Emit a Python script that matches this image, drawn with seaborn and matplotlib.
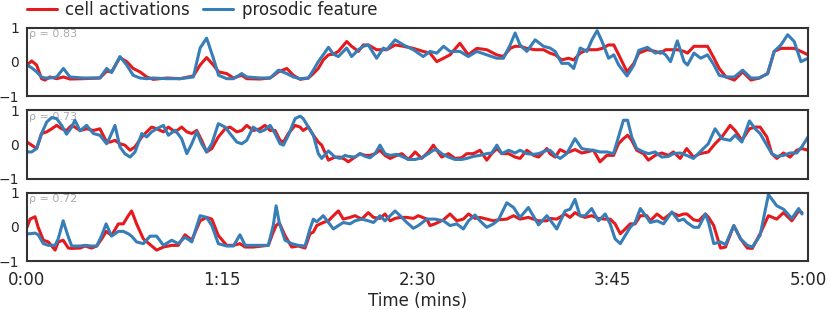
import matplotlib
matplotlib.use("Agg")
import matplotlib.pyplot as plt
import seaborn as sns

# --- data (time in seconds, values in [-1, 1]) ---

# panel 1 (rho = 0.83)
t1 = [0, 1.8, 3.7, 5.6, 6.9, 8.8, 11.4, 14.0, 16.5, 21.6,
      28.0, 30.6, 32.5, 35.7, 38.3, 40.8, 43.4, 46.0, 48.5, 53.7,
      58.8, 63.9, 66.5, 69.0, 71.6, 73.6, 76.7, 79.3, 82.5, 84.4,
      89.5, 93.4, 96.6,
      99.8, 102.3, 104.9, 108.1, 110.0, 111.9, 113.8, 115.8, 117.7, 119.6,
      122.8, 124.7, 127.3, 129.2, 131.1, 134.3, 136.9, 138.2, 141.4, 144.6,
      148.4, 152.2, 154.8, 157.4, 160.0, 162.5, 166.3, 169.5, 172.8, 176.6,
      180.4, 183.0, 185.6, 187.5, 189.4, 192.0, 195.2, 198.4,
      200.9, 202.9, 205.4, 208.0, 210.0, 212.5, 215.1, 217.0, 219.0, 220.9,
      223.4, 225.4, 227.3, 230.5, 233.1, 235.0, 238.3, 241.4, 243.4, 245.3,
      247.2, 249.8, 252.4, 253.7, 256.2, 258.8, 261.4, 263.9, 265.9, 268.5,
      271.7, 274.9, 278.1, 281.3, 284.5, 287.0, 289.6, 292.2, 294.7, 297.3,
      300.0]
cell1 = [-0.09, 0.03, -0.09, -0.49, -0.53, -0.44, -0.49, -0.44, -0.50, -0.49,
         -0.47, -0.27, -0.29, 0.13, 0.01, -0.19, -0.29, -0.44, -0.51, -0.47,
         -0.49, -0.41, -0.09, 0.13, -0.09, -0.29, -0.34, -0.47, -0.39, -0.49,
         -0.50, -0.47, -0.29,
         -0.19, -0.39, -0.51, -0.47, -0.34, -0.19, 0.06, 0.21, 0.23, 0.31,
         0.60, 0.46, 0.31, 0.50, 0.50, 0.36, 0.36, 0.36, 0.50, 0.46,
         0.40, 0.31, 0.26, 0.01, 0.11, 0.21, 0.55, 0.21, 0.40, 0.36,
         0.21, 0.16, 0.40, 0.46, 0.46, 0.40, 0.36, 0.36,
         0.26, 0.21, 0.06, 0.11, 0.06, 0.26, 0.36, 0.36, 0.36, 0.40,
         0.50, 0.50, 0.21, -0.29, -0.04, 0.26, 0.36, 0.31, 0.26, 0.36,
         0.36, 0.36, 0.31, 0.26, 0.46, 0.46, 0.46, 0.11, -0.19, -0.44,
         -0.53, -0.29, -0.53, -0.47, -0.34, 0.31, 0.40, 0.40, 0.40, 0.31,
         0.21]
pros1 = [-0.09, -0.17, -0.29, -0.44, -0.47, -0.47, -0.44, -0.19, -0.44, -0.47,
         -0.47, -0.19, -0.31, 0.16, -0.09, -0.39, -0.47, -0.49, -0.47, -0.49,
         -0.49, -0.44, 0.41, 0.70, 0.11, -0.39, -0.49, -0.49, -0.34, -0.44,
         -0.47, -0.47, -0.24,
         -0.34, -0.44, -0.49, -0.47, -0.24, 0.01, 0.21, 0.43, 0.23, 0.16,
         0.41, 0.16, 0.36, 0.46, 0.50, 0.11, 0.41, 0.36, 0.65, 0.50,
         0.36, 0.16, 0.31, 0.26, 0.46, 0.31, 0.31, 0.16, 0.31, 0.21,
         0.11, 0.11, 0.50, 0.85, 0.50, 0.31, 0.65, 0.46,
         0.41, 0.31, -0.04, -0.04, -0.19, 0.41, 0.31, 0.65, 0.92, 0.60,
         0.11, 0.21, -0.09, -0.41, -0.09, 0.34, 0.43, 0.26, 0.31, 0.21,
         0.01, 0.62, 0.01, -0.09, 0.26, 0.11, 0.21, -0.09, -0.39, -0.44,
         -0.44, -0.24, -0.47, -0.47, -0.34, 0.31, 0.50, 0.80, 0.60, 0.01,
         0.11]

# panel 2 (rho = 0.73)
t2 = [0, 1.8, 3.7, 5.6, 7.6, 9.5, 11.4, 13.3, 15.2, 17.2,
      18.4, 20.4, 22.9, 25.5, 28.0, 30.6, 31.9, 33.8, 35.7, 37.6,
      39.6, 41.5, 44.1, 46.0, 47.9, 49.8, 52.4, 54.3, 56.9, 59.4,
      61.4, 63.3, 65.2, 67.1, 69.0, 71.0, 73.5, 76.1, 78.0, 80.6,
      82.5, 84.4, 86.9, 89.5, 91.4, 93.4, 95.3,
      97.2, 98.5, 100.4, 103.0, 104.9, 106.1, 108.1, 110.0, 111.9, 113.2,
      115.8, 118.3, 120.2, 122.2, 123.4, 126.0, 127.9, 129.9, 131.8, 133.7,
      135.6, 137.5, 139.5, 142.0, 144.0, 146.5, 149.1, 151.6, 154.2, 156.1,
      157.4, 159.3, 161.9, 164.4, 167.0, 168.9, 171.5, 174.0, 176.6, 178.5,
      180.5, 182.4, 185.0, 187.5, 189.4, 192.0, 194.6, 196.5, 199.7,
      200.9, 202.9, 204.8, 207.3, 210.5, 213.1, 215.0, 217.6, 220.1, 222.7,
      225.3, 227.2, 229.1, 230.7, 232.3, 234.2, 236.8, 238.7, 241.3, 243.8,
      246.4, 248.3, 250.9, 253.4, 256.0, 258.5, 261.7, 264.3, 266.9, 270.1,
      272.0, 274.6, 277.5, 279.7, 281.6, 284.2, 286.1, 288.0, 290.6, 293.1,
      295.7, 297.6, 300.0]
cell2 = [0.07, -0.02, -0.12, 0.32, 0.37, 0.46, 0.56, 0.46, 0.41, 0.56,
         0.51, 0.41, 0.46, 0.41, 0.46, 0.07, 0.07, 0.12, 0.02, -0.02,
         -0.17, -0.07, 0.22, 0.37, 0.51, 0.46, 0.37, 0.51, 0.37, 0.51,
         0.37, 0.32, 0.41, 0.12, -0.22, -0.12, 0.22, 0.46, 0.51, 0.37,
         0.41, 0.56, 0.41, 0.46, 0.56, 0.41, 0.41,
         0.12, 0.07, 0.32, 0.56, 0.51, 0.41, 0.51, 0.27, 0.07, -0.02,
         -0.46, -0.37, -0.37, -0.44, -0.51, -0.37, -0.27, -0.32, -0.32, -0.27,
         -0.17, -0.32, -0.41, -0.32, -0.27, -0.44, -0.22, -0.41, -0.22, -0.02,
         -0.17, -0.37, -0.27, -0.41, -0.39, -0.27, -0.27, -0.17, -0.46, -0.27,
         -0.12, -0.27, -0.27, -0.37, -0.41, -0.17, -0.32, -0.37, -0.12,
         -0.27, -0.37, -0.15, -0.25, -0.15, -0.25, -0.22, -0.17, -0.51, -0.32,
         -0.32, 0.02, 0.17, 0.27, 0.12, -0.17, -0.27, -0.46, -0.32, -0.25,
         -0.32, -0.22, -0.41, -0.12, -0.37, -0.27, -0.22, 0.02, 0.22, 0.56,
         0.41, 0.12, 0.46, 0.51, 0.51, 0.22, -0.27, -0.41, -0.25, -0.37,
         -0.17, -0.12, -0.17]
pros2 = [-0.22, -0.22, -0.12, 0.32, 0.66, 0.79, 0.76, 0.56, 0.30, 0.51,
         0.71, 0.40, 0.56, 0.32, 0.27, 0.02, 0.22, 0.56, -0.07, -0.27,
         -0.37, -0.22, 0.32, 0.22, 0.37, 0.46, 0.56, 0.27, 0.42, 0.17,
         -0.27, 0.02, 0.37, 0.02, -0.22, 0.02, 0.61, 0.51, 0.32, 0.07,
         0.02, 0.12, 0.51, 0.37, 0.43, 0.56, 0.32,
         0.02, -0.02, 0.27, 0.76, 0.83, 0.76, 0.51, 0.27, -0.27, -0.41,
         -0.19, -0.37, -0.41, -0.32, -0.35, -0.37, -0.27, -0.35, -0.39, -0.27,
         -0.02, -0.27, -0.32, -0.29, -0.35, -0.44, -0.44, -0.39, -0.27, -0.17,
         -0.15, -0.27, -0.37, -0.44, -0.44, -0.41, -0.35, -0.32, -0.27, -0.25,
         -0.02, -0.27, -0.17, -0.25, -0.17, -0.27, -0.29, -0.27, -0.17,
         -0.17, -0.32, -0.41, -0.27, 0.17, -0.12, -0.15, -0.17, -0.22, -0.22,
         -0.27, 0.22, 0.71, 0.71, 0.22, -0.12, -0.22, -0.27, -0.22, -0.37,
         -0.35, -0.27, -0.25, -0.32, -0.41, -0.22, 0.02, 0.46, 0.17, 0.12,
         0.27, 0.07, 0.69, 0.46, 0.32, -0.02, -0.27, -0.35, -0.32, -0.25,
         -0.25, -0.07, 0.22]

# panel 3 (rho = 0.72)
t3 = [0, 1.2, 3.1, 4.3, 6.3, 8.2, 10.8, 12.0, 13.9, 15.9,
      17.2, 20.4, 22.3, 24.8, 26.8, 28.7, 30.4, 32.5, 35.1, 37.0,
      38.9, 40.2, 42.1, 44.7, 47.3, 49.8, 52.4, 55.6, 58.1, 60.7,
      63.3, 66.5, 69.0, 71.0, 73.5, 76.7, 79.3, 81.8, 83.8, 86.9,
      92.7, 94.6, 95.7, 96.9,
      99.1, 101.7, 104.2, 106.8, 108.7, 110.0, 111.3, 113.8, 115.8, 117.7,
      119.6, 121.5, 124.1, 126.0, 128.6, 131.1, 133.1, 135.6, 137.5, 139.5,
      141.4, 143.3, 145.9, 148.4, 150.3, 153.6, 154.8, 156.7, 160.0, 162.5,
      165.1, 167.6, 169.6, 172.1, 174.0, 176.6, 179.2, 181.1, 184.3, 186.9,
      189.4, 192.6, 196.5, 199.7,
      200.9, 203.5, 206.7, 208.6, 210.5, 212.4, 214.4, 216.9, 219.5, 222.1,
      224.0, 225.9, 227.9, 229.8, 231.7, 233.6, 235.6, 238.1, 239.4, 242.0,
      244.5, 247.7, 250.3, 252.2, 253.5, 256.1, 258.0, 260.6, 261.8, 263.8,
      266.4, 268.3, 271.5, 274.1, 276.7, 278.6, 281.6, 284.8, 288.0, 290.6,
      293.8, 296.4, 297.7]
cell3 = [-0.01, 0.23, 0.30, -0.01, -0.39, -0.44, -0.68, -0.44, -0.39, -0.62,
         -0.63, -0.62, -0.56, -0.62, -0.56, -0.35, -0.13, -0.25, 0.09, 0.09,
         0.33, 0.47, 0.09, -0.35, -0.52, -0.68, -0.59, -0.54, -0.54, -0.23,
         -0.39, 0.18, 0.28, 0.23, -0.25, -0.54, -0.54, -0.49, -0.59, -0.59,
         -0.54, -0.15, 0.04, 0.12,
         -0.25, -0.59, -0.56, -0.62, -0.20, -0.15, 0.04, 0.13, 0.18, 0.33,
         0.47, 0.23, 0.28, 0.33, 0.23, 0.42, 0.28, 0.25, 0.38, 0.18,
         0.25, 0.28, 0.28, 0.25, 0.33, 0.23, 0.04, 0.09, 0.21, 0.38,
         0.18, 0.23, 0.38, 0.25, 0.28, 0.23, 0.18, 0.21, 0.23, 0.33,
         0.23, 0.28, 0.18, 0.18,
         0.25, 0.23, 0.38, 0.28, 0.42, 0.33, 0.28, 0.33, 0.25, 0.23,
         0.23, 0.09, -0.20, -0.06, 0.09, 0.09, 0.33, 0.33, 0.18, 0.38,
         0.23, 0.42, 0.33, 0.38, 0.38, 0.21, 0.18, 0.38, 0.28, 0.04,
         -0.62, -0.59, 0.04, -0.35, -0.62, -0.63, -0.20, 0.33, 0.23, 0.42,
         0.18, 0.47, 0.42]
pros3 = [-0.20, -0.20, -0.18, -0.23, -0.49, -0.54, -0.54, -0.35, 0.18, -0.30,
         -0.56, -0.56, -0.54, -0.56, -0.56, -0.25, 0.09, -0.27, -0.13, -0.13,
         -0.20, -0.27, -0.44, -0.49, -0.27, -0.27, -0.54, -0.39, -0.49, -0.30,
         -0.44, 0.33, 0.28, 0.04, -0.49, -0.56, -0.56, -0.23, -0.54, -0.54,
         -0.54, 0.04, 0.62, 0.13,
         -0.39, -0.49, -0.54, -0.56, -0.06, 0.23, 0.15, 0.33, 0.13, -0.06,
         0.04, 0.13, 0.09, 0.18, 0.23, 0.18, 0.13, 0.33, 0.18, 0.33,
         0.47, 0.33, 0.13, -0.04, 0.04, 0.23, 0.23, 0.23, 0.18, 0.04,
         0.09, -0.06, 0.18, 0.35, 0.18, -0.01, 0.09, 0.21, 0.71, 0.57,
         0.28, 0.57, 0.06, 0.33,
         0.21, -0.06, 0.47, 0.52, 0.81, 0.33, 0.33, 0.54, 0.18, 0.38,
         0.09, -0.35, -0.49, -0.25, -0.01, 0.13, 0.54, 0.28, 0.13, 0.18,
         0.09, 0.44, 0.18, 0.23, 0.13, -0.01, -0.01, 0.38, 0.13, -0.49,
         -0.44, -0.52, 0.04, -0.35, -0.54, -0.59, -0.25, 0.95, 0.62, 0.52,
         0.25, 0.54, 0.38]

rhos = [0.83, 0.73, 0.72]
xtick_pos = [0, 75, 150, 225, 300]
xtick_labels = ["0:00", "1:15", "2:30", "3:45", "5:00"]
series_names = ["cell activations", "prosodic feature"]

RED = "#e41a1c"
BLUE = "#377eb8"

sns.set_style("white")
plt.rcParams["font.family"] = ["DejaVu Sans"]

fig, axes = plt.subplots(3, 1, figsize=(8.3, 3.1), dpi=100, sharex=True)
fig.subplots_adjust(left=0.0325, right=0.9735, top=0.91, bottom=0.158, hspace=0.21)

panels = [(t1, cell1, pros1), (t2, cell2, pros2), (t3, cell3, pros3)]
for ax, (t, cell, pros), rho in zip(axes, panels, rhos):
    sns.lineplot(x=t, y=cell, ax=ax, color=RED, lw=2.2, label=series_names[0], legend=False)
    sns.lineplot(x=t, y=pros, ax=ax, color=BLUE, lw=2.2, label=series_names[1], legend=False)
    ax.set_xlim(0, 300)
    ax.set_ylim(-1, 1)
    ax.set_yticks([-1, 0, 1])
    ax.tick_params(axis="y", labelsize=10, pad=2)
    ax.set_ylabel("")
    for sp in ax.spines.values():
        sp.set_color("#333333")
        sp.set_linewidth(1.5)
    ax.text(0.003, 0.98, f"ρ = {rho:.2f}", transform=ax.transAxes,
            ha="left", va="top", fontsize=8, color="#aaaaaa", zorder=1)

axes[-1].set_xticks(xtick_pos)
axes[-1].set_xticklabels(xtick_labels)
axes[-1].tick_params(axis="x", labelsize=12)
axes[-1].set_xlabel("Time (mins)", fontsize=12, labelpad=2)

handles, labels = axes[0].get_legend_handles_labels()
fig.legend(handles, labels, loc="center left", bbox_to_anchor=(0.0245, 0.968),
           ncol=2, frameon=False, fontsize=12, handlelength=1.8,
           handletextpad=0.5, columnspacing=0.8, borderaxespad=0)

plt.savefig("out.png", dpi=100)
plt.close()
